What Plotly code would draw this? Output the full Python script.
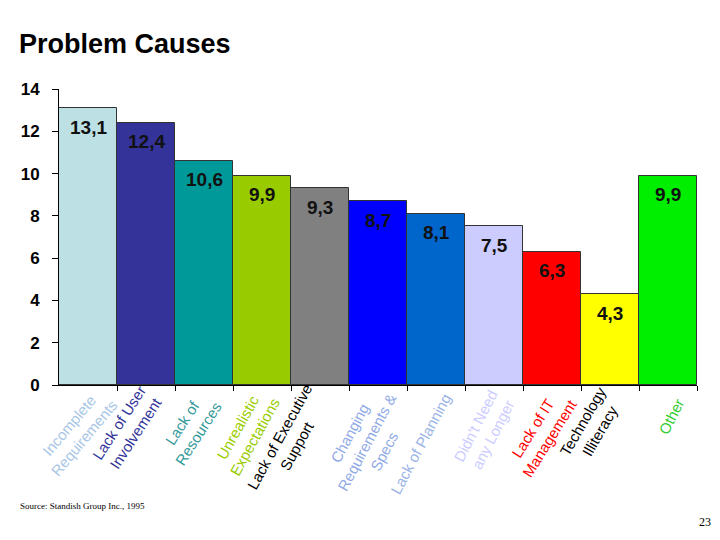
import plotly.graph_objects as go

categories = ["Incomplete<br>Requirements", "Lack of User<br>Involvement", "Lack of<br>Resources",
              "Unrealistic<br>Expectations", "Lack of Executive<br>Support",
              "Changing<br>Requirements &<br>Specs", "Lack of Planning", "Didn't Need<br>any Longer",
              "Lack of IT<br>Management", "Technology<br>Illiteracy", "Other"]
values = [13.1, 12.4, 10.6, 9.9, 9.3, 8.7, 8.1, 7.5, 6.3, 4.3, 9.9]
value_labels = ["13,1", "12,4", "10,6", "9,9", "9,3", "8,7", "8,1", "7,5", "6,3", "4,3", "9,9"]
bar_colors = ["#BCE0E4", "#333399", "#009999", "#99CC00", "#808080", "#0000FF",
              "#0066CC", "#CCCCFF", "#FF0000", "#FFFF00", "#00EE00"]
label_colors = ["#A9C6E6", "#333399", "#339999", "#99CC00", "#000000", "#8FAAE6",
                "#99B3E6", "#CCCCFF", "#FF0000", "#000000", "#33CC33"]
y_ticks = [0, 2, 4, 6, 8, 10, 12, 14]

# label layout (style only)
label_angles = [-50, -57, -57, -61, -61, -62, -62, -63, -58, -60, -63]
label_dx = [-12, -19, -14, -16, -32, -11, -16, -10, -11, -19, 3]
label_dy = [47, 43, 43, 47, 56, 57, 59, 45, 48, 41, 31]

# the page body adds an 8px offset; figure is sized to fit the window
OFF = 8
W, H = 720 - OFF, 540 - OFF
PL, PR, PT, PB = 59, 697, 89, 385  # plot area in screen pixels


def px_x(sx):
    return (sx - PL) / (PR - PL)


def px_y(sy):
    return (PB - sy) / (PB - PT)


xs = list(range(len(categories)))

fig = go.Figure()
fig.add_trace(go.Bar(
    x=xs, y=values,
    marker=dict(color=bar_colors, line=dict(color="#333333", width=1)),
    hoverinfo="skip",
))

for i, v in enumerate(values):
    fig.add_annotation(x=xs[i], y=v, xref="x", yref="y", text=f"<b>{value_labels[i]}</b>",
                       showarrow=False, xanchor="center", yanchor="middle", yshift=-19,
                       font=dict(family="Liberation Sans, Arial", size=19, color="#111111"))
    fig.add_annotation(x=xs[i], y=0, xref="x", yref="paper", text=categories[i],
                       showarrow=False, xanchor="center", yanchor="middle",
                       xshift=label_dx[i], yshift=-label_dy[i], textangle=label_angles[i],
                       font=dict(family="Liberation Sans, Arial", size=15, color=label_colors[i]))

fig.add_annotation(x=px_x(17), y=px_y(44), xref="paper", yref="paper", text="<b>Problem Causes</b>",
                   showarrow=False, xanchor="left", yanchor="middle",
                   font=dict(family="Liberation Sans, Arial", size=27, color="#000000"))
fig.add_annotation(xref="paper", yref="paper", x=px_x(18), y=px_y(506),
                   text="Source: Standish Group Inc., 1995",
                   showarrow=False, xanchor="left", yanchor="middle",
                   font=dict(family="Liberation Serif", size=9, color="black"))
fig.add_annotation(xref="paper", yref="paper", x=px_x(713), y=px_y(522), text="23",
                   showarrow=False, xanchor="right", yanchor="middle",
                   font=dict(family="Liberation Serif", size=12, color="black"))

fig.update_layout(
    width=W, height=H,
    margin=dict(l=PL - OFF, r=720 - PR, t=PT - OFF, b=540 - PB, autoexpand=False),
    paper_bgcolor="white", plot_bgcolor="white",
    bargap=0, showlegend=False,
    xaxis=dict(range=[-0.5, len(categories) - 0.5], showticklabels=False, showgrid=False,
               zeroline=False, showline=True, linecolor="black", linewidth=1,
               tickmode="array", tickvals=[i + 0.5 for i in xs], ticks="outside",
               ticklen=5, tickcolor="black"),
    yaxis=dict(range=[0, 14], tickvals=y_ticks, showgrid=False, zeroline=False,
               showline=True, linecolor="black", linewidth=1, ticks="outside", ticklen=6,
               tickcolor="black", ticklabelstandoff=9,
               tickfont=dict(family="Liberation Sans, Arial", size=17, color="black",
                             weight="bold")),
)

fig.write_html("out.html")
